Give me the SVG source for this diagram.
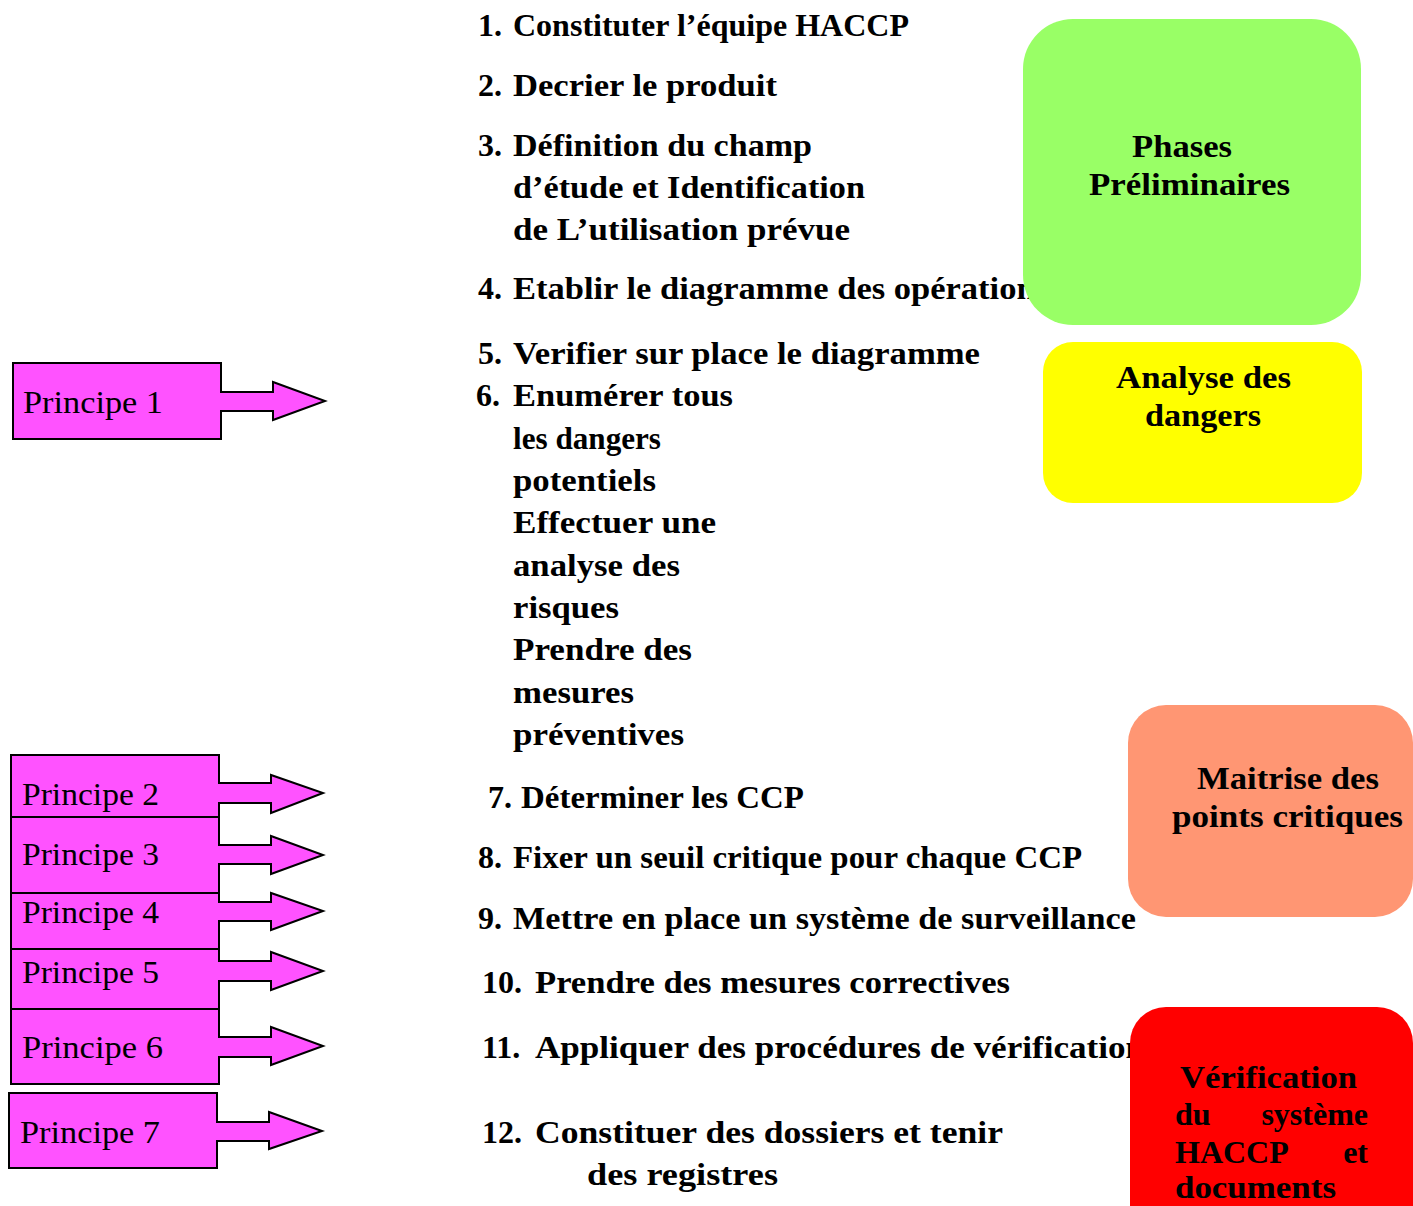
<svg xmlns="http://www.w3.org/2000/svg" width="1413" height="1206" viewBox="0 0 1413 1206">
  <style>
    .step { font-family: "Liberation Serif", "Times New Roman", serif; font-weight: bold; font-size: 32px; fill: #000; }
    .phase { font-family: "Liberation Serif", "Times New Roman", serif; font-weight: bold; font-size: 32px; fill: #000; }
    .prin { font-family: "Liberation Serif", "Times New Roman", serif; font-size: 32px; fill: #000; }
    .arrow { fill: #FF52FF; stroke: #000; stroke-width: 2; stroke-linejoin: miter; }
  </style>

  <rect width="1413" height="1206" fill="#fff"/>

  <!-- HACCP step list -->
  <g id="steps">
    <text class="step" x="478" y="36">1.</text>
    <text class="step" x="513" y="36" textLength="396" lengthAdjust="spacingAndGlyphs">Constituter l’équipe HACCP</text>

    <text class="step" x="478" y="96">2.</text>
    <text class="step" x="513" y="96" textLength="264" lengthAdjust="spacingAndGlyphs">Decrier  le produit</text>

    <text class="step" x="478" y="156">3.</text>
    <text class="step" x="513" y="156" textLength="299" lengthAdjust="spacingAndGlyphs">Définition du champ</text>
    <text class="step" x="513" y="198" textLength="352" lengthAdjust="spacingAndGlyphs">d’étude et Identification</text>
    <text class="step" x="513" y="240" textLength="337" lengthAdjust="spacingAndGlyphs">de L’utilisation prévue</text>

    <text class="step" x="478" y="299">4.</text>
    <text class="step" x="513" y="299" textLength="536" lengthAdjust="spacingAndGlyphs">Etablir le diagramme des opérations</text>

    <text class="step" x="478" y="364">5.</text>
    <text class="step" x="513" y="364" textLength="467" lengthAdjust="spacingAndGlyphs">Verifier sur place le diagramme</text>

    <text class="step" x="476" y="406">6.</text>
    <text class="step" x="513" y="406" textLength="220" lengthAdjust="spacingAndGlyphs">Enumérer tous</text>
    <text class="step" x="513" y="449" textLength="148" lengthAdjust="spacingAndGlyphs">les dangers</text>
    <text class="step" x="513" y="491" textLength="143" lengthAdjust="spacingAndGlyphs">potentiels</text>
    <text class="step" x="513" y="533" textLength="203" lengthAdjust="spacingAndGlyphs">Effectuer une</text>
    <text class="step" x="513" y="576" textLength="167" lengthAdjust="spacingAndGlyphs">analyse des</text>
    <text class="step" x="513" y="618" textLength="106" lengthAdjust="spacingAndGlyphs">risques</text>
    <text class="step" x="513" y="660" textLength="179" lengthAdjust="spacingAndGlyphs">Prendre des</text>
    <text class="step" x="513" y="703" textLength="121" lengthAdjust="spacingAndGlyphs">mesures</text>
    <text class="step" x="513" y="745" textLength="171" lengthAdjust="spacingAndGlyphs">préventives</text>

    <text class="step" x="488" y="808">7.</text>
    <text class="step" x="521" y="808" textLength="283" lengthAdjust="spacingAndGlyphs">Déterminer les CCP</text>

    <text class="step" x="478" y="868">8.</text>
    <text class="step" x="513" y="868" textLength="569" lengthAdjust="spacingAndGlyphs">Fixer un seuil critique pour chaque CCP</text>

    <text class="step" x="478" y="929">9.</text>
    <text class="step" x="513" y="929" textLength="623" lengthAdjust="spacingAndGlyphs">Mettre en place un système de surveillance</text>

    <text class="step" x="482" y="993">10.</text>
    <text class="step" x="535" y="993" textLength="475" lengthAdjust="spacingAndGlyphs">Prendre des mesures correctives</text>

    <text class="step" x="482" y="1058">11.</text>
    <text class="step" x="535" y="1058" textLength="610" lengthAdjust="spacingAndGlyphs">Appliquer des procédures de vérification</text>

    <text class="step" x="482" y="1143">12.</text>
    <text class="step" x="535" y="1143" textLength="468" lengthAdjust="spacingAndGlyphs">Constituer des dossiers et tenir</text>
    <text class="step" x="587" y="1185" textLength="191" lengthAdjust="spacingAndGlyphs">des registres</text>
  </g>

  <!-- phase blocks (drawn over the list) -->
  <g id="phase-preliminaires">
    <rect x="1023" y="19" width="338" height="306" rx="50" ry="50" fill="#99FF66"/>
    <text class="phase" x="1132" y="157" textLength="100" lengthAdjust="spacingAndGlyphs">Phases</text>
    <text class="phase" x="1089" y="195" textLength="201" lengthAdjust="spacingAndGlyphs">Préliminaires</text>
  </g>

  <g id="phase-analyse">
    <rect x="1043" y="342" width="319" height="161" rx="30" ry="30" fill="#FFFF00"/>
    <text class="phase" x="1116" y="388" textLength="175" lengthAdjust="spacingAndGlyphs">Analyse des</text>
    <text class="phase" x="1145" y="426" textLength="116" lengthAdjust="spacingAndGlyphs">dangers</text>
  </g>

  <g id="phase-maitrise">
    <rect x="1128" y="705" width="285" height="212" rx="38" ry="38" fill="#FF9673"/>
    <text class="phase" x="1197" y="789" textLength="182" lengthAdjust="spacingAndGlyphs">Maitrise des</text>
    <text class="phase" x="1172" y="827" textLength="231" lengthAdjust="spacingAndGlyphs">points critiques</text>
  </g>

  <g id="phase-verification">
    <rect x="1130" y="1007" width="283" height="240" rx="36" ry="36" fill="#FF0000"/>
    <text class="phase" x="1180" y="1088" textLength="177" lengthAdjust="spacingAndGlyphs">Vérification</text>
    <text class="phase" x="1175" y="1125">du</text>
    <text class="phase" x="1368" y="1125" text-anchor="end">système</text>
    <text class="phase" x="1175" y="1163">HACCP</text>
    <text class="phase" x="1368" y="1163" text-anchor="end">et</text>
    <text class="phase" x="1175" y="1198" textLength="161" lengthAdjust="spacingAndGlyphs">documents</text>
  </g>

  <!-- principle callouts with arrows -->
  <g id="principe-1">
    <path class="arrow" d="M13,363 H221 V392 H273 V382 L325,401 L273,420 V411 H221 V439 H13 Z"/>
    <text class="prin" x="23" y="413" textLength="140" lengthAdjust="spacingAndGlyphs">Principe 1</text>
  </g>
  <g id="principe-2">
    <path class="arrow" d="M11,755 H219 V783 H271 V775 L323,793 L271,813 V803 H219 V817 H11 Z"/>
    <text class="prin" x="22" y="805" textLength="137" lengthAdjust="spacingAndGlyphs">Principe 2</text>
  </g>
  <g id="principe-3">
    <path class="arrow" d="M11,817 H219 V845 H271 V836 L323,855 L271,874 V864 H219 V893 H11 Z"/>
    <text class="prin" x="22" y="865" textLength="137" lengthAdjust="spacingAndGlyphs">Principe 3</text>
  </g>
  <g id="principe-4">
    <path class="arrow" d="M11,893 H219 V902 H271 V893 L323,911 L271,930 V921 H219 V949 H11 Z"/>
    <text class="prin" x="22" y="923" textLength="137" lengthAdjust="spacingAndGlyphs">Principe 4</text>
  </g>
  <g id="principe-5">
    <path class="arrow" d="M11,949 H219 V961 H271 V952 L323,971 L271,990 V981 H219 V1009 H11 Z"/>
    <text class="prin" x="22" y="983" textLength="137" lengthAdjust="spacingAndGlyphs">Principe 5</text>
  </g>
  <g id="principe-6">
    <path class="arrow" d="M11,1009 H219 V1037 H271 V1027 L323,1046 L271,1065 V1057 H219 V1084 H11 Z"/>
    <text class="prin" x="22" y="1058" textLength="141" lengthAdjust="spacingAndGlyphs">Principe 6</text>
  </g>
  <g id="principe-7">
    <path class="arrow" d="M9,1093 H217 V1122 H269 V1112 L322,1131 L269,1149 V1141 H217 V1168 H9 Z"/>
    <text class="prin" x="20" y="1143" textLength="140" lengthAdjust="spacingAndGlyphs">Principe 7</text>
  </g>
</svg>
